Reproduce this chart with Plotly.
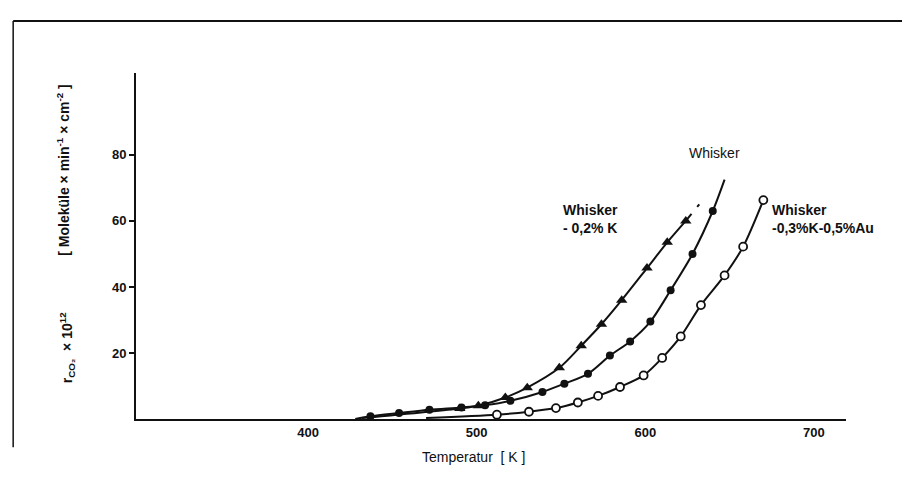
import plotly.graph_objects as go

# ---------------- data ----------------
# Whisker - 0,2% K  (filled triangles)
tri_T = [490, 501, 517, 530, 549, 562, 574, 586, 601, 613, 624]
tri_v = [3.2, 4.0, 6.5, 9.5, 15.5, 22.2, 28.7, 36.0, 45.7, 53.5, 60.0]
tri_start_T, tri_start_v = 432, 0.3
tri_ext_T = [624, 632]
tri_ext_v = [60.0, 65.0]

# Whisker (filled circles)
mid_T = [437, 454, 472, 491, 505, 520, 539, 552, 566, 579, 591, 603, 615, 628, 640]
mid_v = [0.8, 1.8, 2.8, 3.5, 4.2, 5.5, 8.2, 10.7, 13.7, 19.2, 23.5, 29.5, 39.0, 50.0, 63.0]
mid_start_T, mid_start_v = 428, 0.0
mid_end_T, mid_end_v = 647, 72.5

# Whisker - 0,3% K - 0,5% Au (open circles)
opn_T = [512, 531, 547, 560, 572, 585, 599, 610, 621, 633, 647, 658, 670]
opn_v = [1.3, 2.2, 3.3, 5.0, 7.0, 9.7, 13.2, 18.5, 25.0, 34.5, 43.5, 52.2, 66.3]
opn_start_T, opn_start_v = 470, 0.3

x_ticks = [400, 500, 600, 700]
y_ticks = [20, 40, 60, 80]

x_range = [298, 719]
y_range = [0, 104.8]

FONT = "Liberation Sans"
INK = "#111111"

fig = go.Figure()

def curve(xs, ys, dash="solid"):
    fig.add_trace(go.Scatter(
        x=xs, y=ys, mode="lines",
        line=dict(color=INK, width=2, shape="spline", smoothing=0.8, dash=dash),
        hoverinfo="skip", showlegend=False))

curve([tri_start_T] + tri_T, [tri_start_v] + tri_v)
curve(tri_ext_T, tri_ext_v, dash="dash")
curve([mid_start_T] + mid_T + [mid_end_T], [mid_start_v] + mid_v + [mid_end_v])
curve([opn_start_T] + opn_T, [opn_start_v] + opn_v)

fig.add_trace(go.Scatter(
    x=tri_T, y=tri_v, mode="markers",
    marker=dict(symbol="triangle-up", size=10, color=INK, line=dict(width=0)),
    showlegend=False))
fig.add_trace(go.Scatter(
    x=mid_T, y=mid_v, mode="markers",
    marker=dict(symbol="circle", size=8, color=INK, line=dict(width=0)),
    showlegend=False))
fig.add_trace(go.Scatter(
    x=opn_T, y=opn_v, mode="markers",
    marker=dict(symbol="circle", size=8, color="white", line=dict(color=INK, width=1.8)),
    showlegend=False))

lab_font = dict(family=FONT, size=14, color=INK)
annotations = [
    dict(x=550, y=60.5, xref="x", yref="y", text="<b>Whisker</b><br><b>- 0,2% K</b>",
         showarrow=False, xanchor="left", yanchor="middle", align="left", font=lab_font),
    dict(x=641, y=80.5, xref="x", yref="y", text="Whisker",
         showarrow=False, xanchor="center", yanchor="middle", font=lab_font),
    dict(x=674, y=60.5, xref="x", yref="y", text="<b>Whisker</b><br><b>-0,3%K-0,5%Au</b>",
         showarrow=False, xanchor="left", yanchor="middle", align="left", font=lab_font),
    dict(x=-0.097, y=0.205, xref="paper", yref="paper",
         text="<b>r<sub>CO₂</sub>  × 10<sup>12</sup></b>",
         showarrow=False, textangle=-90, xanchor="center", yanchor="middle",
         font=dict(family=FONT, size=14, color=INK)),
    dict(x=-0.103, y=0.72, xref="paper", yref="paper",
         text="<b>[ Moleküle × min<sup>-1</sup> × cm<sup>-2</sup> ]</b>",
         showarrow=False, textangle=-90, xanchor="center", yanchor="middle",
         font=dict(family=FONT, size=14, color=INK)),
    dict(x=0.476, y=-0.11, xref="paper", yref="paper",
         text="Temperatur  [ K ]",
         showarrow=False, xanchor="center", yanchor="middle",
         font=dict(family=FONT, size=14, color=INK)),
]

shapes = [
    # scan frame remnants
    dict(type="line", xref="paper", yref="paper", x0=-0.173, x1=1.101, y0=1.150, y1=1.150,
         line=dict(color=INK, width=2)),
    dict(type="line", xref="paper", yref="paper", x0=-0.173, x1=-0.173, y0=1.150, y1=-0.082,
         line=dict(color=INK, width=1.5)),
    dict(type="line", xref="paper", yref="paper", x0=0.376, x1=1.101, y0=-0.227, y1=-0.227,
         line=dict(color="#777777", width=2)),
]

tickfont = dict(family=FONT, size=13, color=INK)
fig.update_layout(
    width=910, height=495,
    margin=dict(l=128, r=72, t=65, b=84),
    paper_bgcolor="white", plot_bgcolor="white",
    font=dict(family=FONT, size=13, color=INK),
    showlegend=False,
    annotations=annotations,
    shapes=shapes,
    xaxis=dict(range=x_range, tickvals=x_ticks, ticktext=[f"<b>{t}</b>" for t in x_ticks],
               showgrid=False, zeroline=False, showline=True, linecolor=INK, linewidth=2,
               ticks="", ticklen=0, tickfont=tickfont),
    yaxis=dict(range=y_range, tickvals=y_ticks, ticktext=[f"<b>{t}</b>" for t in y_ticks],
               showgrid=False, zeroline=False, showline=True, linecolor=INK, linewidth=2,
               ticks="outside", ticklen=5, tickwidth=1.5, tickcolor=INK,
               tickfont=tickfont),
)

fig.write_html("out.html")
